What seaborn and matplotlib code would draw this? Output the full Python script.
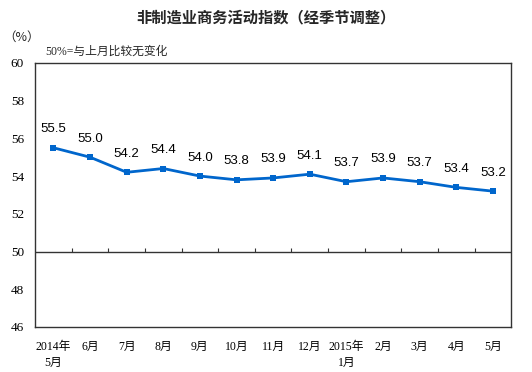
import matplotlib
matplotlib.use("Agg")
import matplotlib.pyplot as plt
import seaborn as sns
import pandas as pd
import numpy as np

months = ["2014年\n5月", "6月", "7月", "8月", "9月", "10月", "11月", "12月",
          "2015年\n1月", "2月", "3月", "4月", "5月"]
index_values = [55.5, 55.0, 54.2, 54.4, 54.0, 53.8, 53.9, 54.1, 53.7, 53.9, 53.7, 53.4, 53.2]
y_ticks = [46, 48, 50, 52, 54, 56, 58, 60]

sns.set_style("white")
plt.rcParams['font.family'] = ['Liberation Serif', 'Noto Sans CJK SC', 'DejaVu Sans']

df = pd.DataFrame({"pos": np.arange(len(months)), "value": index_values})

fig = plt.figure(figsize=(5.32, 3.72), dpi=100)
ax = fig.add_axes([0.066, 0.121, 0.895, 0.710])

sns.lineplot(data=df, x="pos", y="value", ax=ax, color="#0066CC", linewidth=2,
             marker="s", markersize=5, markeredgewidth=0)

for x, v in zip(df["pos"], df["value"]):
    ax.annotate(f"{v:.1f}", (x, v), xytext=(0, 9), textcoords="offset points",
                ha="center", va="bottom", fontsize=9.5, color="black",
                family=['Liberation Sans', 'DejaVu Sans'])

ax.set_xlim(-0.5, len(months) - 0.5)
ax.set_ylim(46, 60)
ax.set_yticks(y_ticks)
ax.set_yticklabels([str(t) for t in y_ticks], fontsize=9.5, color="black")
ax.set_xticks(df["pos"])
ax.set_xticklabels(months, fontsize=8.5, linespacing=1.4, color="black")
ax.tick_params(axis="x", length=0, pad=10)
ax.tick_params(axis="y", direction="in", length=3, width=0.8, color="#333333", pad=8)
ax.set_xlabel("")
ax.set_ylabel("")

# 50 reference line with boundary ticks
ax.axhline(50, color="#333333", linewidth=1)
bounds = np.arange(len(months) - 1) + 0.5
ax.vlines(bounds, 50, 50.2, color="#333333", linewidth=0.8)

for s in ax.spines.values():
    s.set_color("#333333")
    s.set_linewidth(1)
    s.set_visible(True)

fig.text(0.5, 0.953, "非制造业商务活动指数（经季节调整）", ha="center", va="center",
         fontsize=11, fontweight="bold", family=['Noto Sans CJK SC', 'DejaVu Sans'])
fig.text(0.006, 0.9, "（%）", ha="left", va="center", fontsize=9,
         family=['Noto Sans CJK SC', 'DejaVu Sans'])
fig.text(0.085, 0.86, "50%=与上月比较无变化", ha="left", va="center", fontsize=8.5)

fig.savefig("out.png", dpi=100)
